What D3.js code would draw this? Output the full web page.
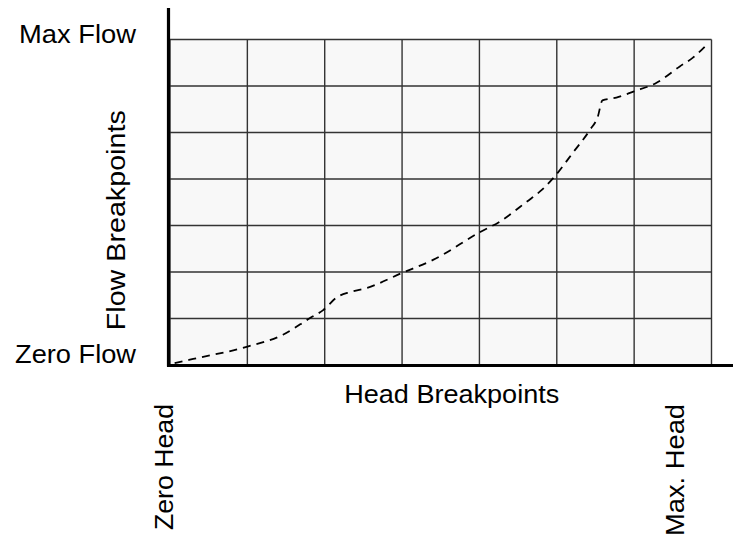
<!DOCTYPE html>
<html>
<head>
<meta charset="utf-8">
<script src="https://cdn.jsdelivr.net/npm/d3@7"></script>
<style>
  html, body { margin: 0; padding: 0; background: #fff; }
  svg { display: block; }
  text { font-family: "Liberation Sans", Arial, Helvetica, sans-serif; fill: #000; }
</style>
</head>
<body>
<svg id="chart" width="733" height="538"></svg>
<script>
// Breakpoint grid: 7 head intervals by 7 flow intervals
const headTicks = [0, 1, 2, 3, 4, 5, 6, 7];
const flowTicks = [0, 1, 2, 3, 4, 5, 6, 7];

// End labels on each axis
const flowLabels = ["Zero Flow", "Max Flow"];
const headLabels = ["Zero Head", "Max. Head"];
const flowTitle = "Flow Breakpoints";
const headTitle = "Head Breakpoints";

// Pump curve sampled at head breakpoints (in grid units)
const headValues = [0.06, 0.30, 0.99, 1.46, 1.81, 1.98, 2.16, 2.33, 2.55, 3.00, 3.40, 4.01, 4.26, 4.61, 4.81, 4.97, 5.21, 5.43, 5.53, 5.59, 5.77, 5.99, 6.29, 6.59, 6.76, 6.94];
const flowValues = [0.04, 0.13, 0.39, 0.65, 1.01, 1.18, 1.46, 1.57, 1.66, 1.98, 2.26, 2.86, 3.08, 3.51, 3.77, 4.05, 4.57, 5.06, 5.34, 5.69, 5.75, 5.88, 6.07, 6.42, 6.61, 6.89];

const svg = d3.select("#chart");
const plotLeft = 170, plotRight = 711.5, plotTop = 39.5, plotBottom = 365;

const x = d3.scaleLinear().domain([0, 7]).range([plotLeft, plotRight]);
const y = d3.scaleLinear().domain([0, 7]).range([plotBottom, plotTop]);

// Plot background
svg.append("rect")
  .attr("x", x(0)).attr("y", y(7))
  .attr("width", x(7) - x(0)).attr("height", y(0) - y(7))
  .attr("fill", "#f8f8f8");

// Grid lines
const grid = svg.append("g").attr("stroke", "#333").attr("stroke-width", 1.4);
grid.selectAll("line.v").data(headTicks).join("line")
  .attr("class", "v")
  .attr("x1", d => x(d)).attr("x2", d => x(d))
  .attr("y1", y(0)).attr("y2", y(7));
grid.selectAll("line.h").data(flowTicks).join("line")
  .attr("class", "h")
  .attr("x1", x(0)).attr("x2", x(7))
  .attr("y1", d => y(d)).attr("y2", d => y(d));

// Pump curve
const line = d3.line()
  .x((d, i) => x(headValues[i]))
  .y(d => y(d))
  .curve(d3.curveMonotoneX);
svg.append("path")
  .datum(flowValues)
  .attr("d", line)
  .attr("fill", "none")
  .attr("stroke", "#000")
  .attr("stroke-width", 1.8)
  .attr("stroke-dasharray", "8,6");

// Heavy axis lines
svg.append("line")
  .attr("x1", x(0) - 1.5).attr("x2", x(0) - 1.5)
  .attr("y1", 8).attr("y2", y(0) + 1.5)
  .attr("stroke", "#000").attr("stroke-width", 3.2);
svg.append("line")
  .attr("x1", x(0) - 3).attr("x2", 733)
  .attr("y1", y(0) + 0.5).attr("y2", y(0) + 0.5)
  .attr("stroke", "#000").attr("stroke-width", 3.2);

const fs = 25;

function label(sel, len) {
  return sel.attr("font-size", fs)
    .attr("textLength", len)
    .attr("lengthAdjust", "spacingAndGlyphs");
}

// Flow end labels
label(svg.append("text")
  .attr("x", 136).attr("y", y(0) - 2)
  .attr("text-anchor", "end"), 121)
  .text(flowLabels[0]);
label(svg.append("text")
  .attr("x", 136).attr("y", y(7) + 3.5)
  .attr("text-anchor", "end"), 117)
  .text(flowLabels[1]);

// Axis titles
label(svg.append("text")
  .attr("x", (x(0) + x(7)) / 2 + 11).attr("y", 403)
  .attr("text-anchor", "middle"), 215)
  .text(headTitle);
label(svg.append("text")
  .attr("transform", `translate(125,${(y(0) + y(7)) / 2 + 18}) rotate(-90)`)
  .attr("text-anchor", "middle"), 220)
  .text(flowTitle);

// Head end labels, rotated
label(svg.append("text")
  .attr("transform", `translate(${x(0) + 3},404) rotate(-90)`)
  .attr("text-anchor", "end"), 126)
  .text(headLabels[0]);
label(svg.append("text")
  .attr("transform", `translate(${x(7) - 28},404) rotate(-90)`)
  .attr("text-anchor", "end"), 132)
  .text(headLabels[1]);
</script>
</body>
</html>
